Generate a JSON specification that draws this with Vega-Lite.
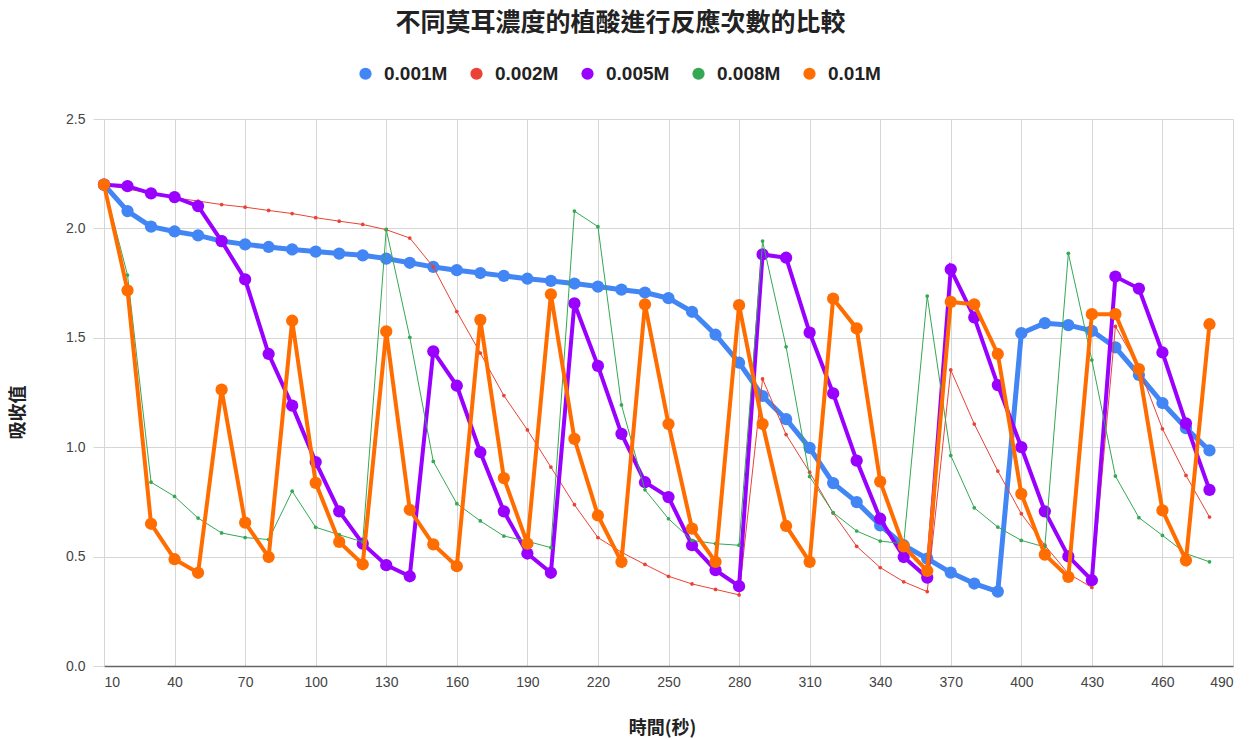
{
  "$schema": "https://vega.github.io/schema/vega-lite/v6.json",
  "autosize": {"type": "none"},
  "padding": {"left": 104, "top": 119, "right": 24, "bottom": 74},
  "width": 1129,
  "height": 547,
  "background": "white",
  "title": {
    "text": "不同莫耳濃度的植酸進行反應次數的比較",
    "font": "Noto Sans CJK TC",
    "fontSize": 25,
    "fontWeight": "bold",
    "color": "#222222",
    "anchor": "middle",
    "dx": -48,
    "offset": 28
  },
  "config": {
    "view": {"stroke": null},
    "axis": {
      "labelFont": "Liberation Sans",
      "labelFontSize": 14,
      "labelColor": "#444444",
      "gridColor": "#d6d6d6",
      "gridWidth": 1,
      "titleFont": "Noto Sans CJK TC",
      "titleFontSize": 18,
      "titleFontWeight": "bold",
      "titleColor": "#222222"
    },
    "legend": {
      "labelFont": "Liberation Sans",
      "labelFontSize": 19,
      "labelFontWeight": "bold",
      "labelColor": "#222222",
      "symbolSize": 150,
      "symbolStrokeWidth": 0,
      "symbolType": "circle",
      "labelOffset": 9,
      "columnPadding": 19,
      "padding": 0
    }
  },
  "data": {
    "values": [
      {"t":10,"s":"0.001M","v":2.2},{"t":20,"s":"0.001M","v":2.079},{"t":30,"s":"0.001M","v":2.008},{"t":40,"s":"0.001M","v":1.986},{"t":50,"s":"0.001M","v":1.968},{"t":60,"s":"0.001M","v":1.942},{"t":70,"s":"0.001M","v":1.927},{"t":80,"s":"0.001M","v":1.915},{"t":90,"s":"0.001M","v":1.904},{"t":100,"s":"0.001M","v":1.894},{"t":110,"s":"0.001M","v":1.885},{"t":120,"s":"0.001M","v":1.877},{"t":130,"s":"0.001M","v":1.862},{"t":140,"s":"0.001M","v":1.843},{"t":150,"s":"0.001M","v":1.824},{"t":160,"s":"0.001M","v":1.809},{"t":170,"s":"0.001M","v":1.796},{"t":180,"s":"0.001M","v":1.783},{"t":190,"s":"0.001M","v":1.770},{"t":200,"s":"0.001M","v":1.760},{"t":210,"s":"0.001M","v":1.748},{"t":220,"s":"0.001M","v":1.734},{"t":230,"s":"0.001M","v":1.720},{"t":240,"s":"0.001M","v":1.707},{"t":250,"s":"0.001M","v":1.681},{"t":260,"s":"0.001M","v":1.619},{"t":270,"s":"0.001M","v":1.514},{"t":280,"s":"0.001M","v":1.386},{"t":290,"s":"0.001M","v":1.234},{"t":300,"s":"0.001M","v":1.128},{"t":310,"s":"0.001M","v":0.997},{"t":320,"s":"0.001M","v":0.836},{"t":330,"s":"0.001M","v":0.749},{"t":340,"s":"0.001M","v":0.643},{"t":350,"s":"0.001M","v":0.552},{"t":360,"s":"0.001M","v":0.491},{"t":370,"s":"0.001M","v":0.427},{"t":380,"s":"0.001M","v":0.377},{"t":390,"s":"0.001M","v":0.340},{"t":400,"s":"0.001M","v":1.521},{"t":410,"s":"0.001M","v":1.567},{"t":420,"s":"0.001M","v":1.558},{"t":430,"s":"0.001M","v":1.532},{"t":440,"s":"0.001M","v":1.456},{"t":450,"s":"0.001M","v":1.330},{"t":460,"s":"0.001M","v":1.202},{"t":470,"s":"0.001M","v":1.087},{"t":480,"s":"0.001M","v":0.985},
      {"t":10,"s":"0.002M","v":2.2},{"t":20,"s":"0.002M","v":2.18},{"t":30,"s":"0.002M","v":2.16},{"t":40,"s":"0.002M","v":2.14},{"t":50,"s":"0.002M","v":2.125},{"t":60,"s":"0.002M","v":2.109},{"t":70,"s":"0.002M","v":2.097},{"t":80,"s":"0.002M","v":2.082},{"t":90,"s":"0.002M","v":2.068},{"t":100,"s":"0.002M","v":2.049},{"t":110,"s":"0.002M","v":2.033},{"t":120,"s":"0.002M","v":2.018},{"t":130,"s":"0.002M","v":1.994},{"t":140,"s":"0.002M","v":1.956},{"t":150,"s":"0.002M","v":1.824},{"t":160,"s":"0.002M","v":1.620},{"t":170,"s":"0.002M","v":1.430},{"t":180,"s":"0.002M","v":1.236},{"t":190,"s":"0.002M","v":1.079},{"t":200,"s":"0.002M","v":0.909},{"t":210,"s":"0.002M","v":0.737},{"t":220,"s":"0.002M","v":0.587},{"t":230,"s":"0.002M","v":0.520},{"t":240,"s":"0.002M","v":0.464},{"t":250,"s":"0.002M","v":0.410},{"t":260,"s":"0.002M","v":0.375},{"t":270,"s":"0.002M","v":0.350},{"t":280,"s":"0.002M","v":0.325},{"t":290,"s":"0.002M","v":1.312},{"t":300,"s":"0.002M","v":1.058},{"t":310,"s":"0.002M","v":0.886},{"t":320,"s":"0.002M","v":0.699},{"t":330,"s":"0.002M","v":0.547},{"t":340,"s":"0.002M","v":0.450},{"t":350,"s":"0.002M","v":0.385},{"t":360,"s":"0.002M","v":0.340},{"t":370,"s":"0.002M","v":1.353},{"t":380,"s":"0.002M","v":1.106},{"t":390,"s":"0.002M","v":0.891},{"t":400,"s":"0.002M","v":0.696},{"t":410,"s":"0.002M","v":0.552},{"t":420,"s":"0.002M","v":0.422},{"t":430,"s":"0.002M","v":0.359},{"t":440,"s":"0.002M","v":1.552},{"t":450,"s":"0.002M","v":1.365},{"t":460,"s":"0.002M","v":1.084},{"t":470,"s":"0.002M","v":0.871},{"t":480,"s":"0.002M","v":0.681},
      {"t":10,"s":"0.005M","v":2.2},{"t":20,"s":"0.005M","v":2.193},{"t":30,"s":"0.005M","v":2.160},{"t":40,"s":"0.005M","v":2.143},{"t":50,"s":"0.005M","v":2.102},{"t":60,"s":"0.005M","v":1.942},{"t":70,"s":"0.005M","v":1.767},{"t":80,"s":"0.005M","v":1.426},{"t":90,"s":"0.005M","v":1.190},{"t":100,"s":"0.005M","v":0.932},{"t":110,"s":"0.005M","v":0.707},{"t":120,"s":"0.005M","v":0.559},{"t":130,"s":"0.005M","v":0.461},{"t":140,"s":"0.005M","v":0.410},{"t":150,"s":"0.005M","v":1.438},{"t":160,"s":"0.005M","v":1.281},{"t":170,"s":"0.005M","v":0.977},{"t":180,"s":"0.005M","v":0.707},{"t":190,"s":"0.005M","v":0.514},{"t":200,"s":"0.005M","v":0.426},{"t":210,"s":"0.005M","v":1.657},{"t":220,"s":"0.005M","v":1.372},{"t":230,"s":"0.005M","v":1.061},{"t":240,"s":"0.005M","v":0.840},{"t":250,"s":"0.005M","v":0.772},{"t":260,"s":"0.005M","v":0.552},{"t":270,"s":"0.005M","v":0.438},{"t":280,"s":"0.005M","v":0.365},{"t":290,"s":"0.005M","v":1.881},{"t":300,"s":"0.005M","v":1.866},{"t":310,"s":"0.005M","v":1.524},{"t":320,"s":"0.005M","v":1.246},{"t":330,"s":"0.005M","v":0.939},{"t":340,"s":"0.005M","v":0.673},{"t":350,"s":"0.005M","v":0.498},{"t":360,"s":"0.005M","v":0.404},{"t":370,"s":"0.005M","v":1.813},{"t":380,"s":"0.005M","v":1.593},{"t":390,"s":"0.005M","v":1.284},{"t":400,"s":"0.005M","v":1.000},{"t":410,"s":"0.005M","v":0.707},{"t":420,"s":"0.005M","v":0.501},{"t":430,"s":"0.005M","v":0.392},{"t":440,"s":"0.005M","v":1.780},{"t":450,"s":"0.005M","v":1.725},{"t":460,"s":"0.005M","v":1.433},{"t":470,"s":"0.005M","v":1.109},{"t":480,"s":"0.005M","v":0.805},
      {"t":10,"s":"0.008M","v":2.2},{"t":20,"s":"0.008M","v":1.787},{"t":30,"s":"0.008M","v":0.840},{"t":40,"s":"0.008M","v":0.775},{"t":50,"s":"0.008M","v":0.676},{"t":60,"s":"0.008M","v":0.608},{"t":70,"s":"0.008M","v":0.587},{"t":80,"s":"0.008M","v":0.578},{"t":90,"s":"0.008M","v":0.799},{"t":100,"s":"0.008M","v":0.634},{"t":110,"s":"0.008M","v":0.600},{"t":120,"s":"0.008M","v":0.567},{"t":130,"s":"0.008M","v":1.995},{"t":140,"s":"0.008M","v":1.502},{"t":150,"s":"0.008M","v":0.935},{"t":160,"s":"0.008M","v":0.742},{"t":170,"s":"0.008M","v":0.663},{"t":180,"s":"0.008M","v":0.594},{"t":190,"s":"0.008M","v":0.570},{"t":200,"s":"0.008M","v":0.541},{"t":210,"s":"0.008M","v":2.079},{"t":220,"s":"0.008M","v":2.008},{"t":230,"s":"0.008M","v":1.193},{"t":240,"s":"0.008M","v":0.805},{"t":250,"s":"0.008M","v":0.673},{"t":260,"s":"0.008M","v":0.574},{"t":270,"s":"0.008M","v":0.559},{"t":280,"s":"0.008M","v":0.552},{"t":290,"s":"0.008M","v":1.942},{"t":300,"s":"0.008M","v":1.459},{"t":310,"s":"0.008M","v":0.866},{"t":320,"s":"0.008M","v":0.701},{"t":330,"s":"0.008M","v":0.617},{"t":340,"s":"0.008M","v":0.571},{"t":350,"s":"0.008M","v":0.559},{"t":360,"s":"0.008M","v":1.691},{"t":370,"s":"0.008M","v":0.962},{"t":380,"s":"0.008M","v":0.723},{"t":390,"s":"0.008M","v":0.635},{"t":400,"s":"0.008M","v":0.574},{"t":410,"s":"0.008M","v":0.544},{"t":420,"s":"0.008M","v":1.886},{"t":430,"s":"0.008M","v":1.398},{"t":440,"s":"0.008M","v":0.868},{"t":450,"s":"0.008M","v":0.678},{"t":460,"s":"0.008M","v":0.597},{"t":470,"s":"0.008M","v":0.514},{"t":480,"s":"0.008M","v":0.476},
      {"t":10,"s":"0.01M","v":2.2},{"t":20,"s":"0.01M","v":1.717},{"t":30,"s":"0.01M","v":0.650},{"t":40,"s":"0.01M","v":0.488},{"t":50,"s":"0.01M","v":0.426},{"t":60,"s":"0.01M","v":1.263},{"t":70,"s":"0.01M","v":0.655},{"t":80,"s":"0.01M","v":0.498},{"t":90,"s":"0.01M","v":1.578},{"t":100,"s":"0.01M","v":0.837},{"t":110,"s":"0.01M","v":0.567},{"t":120,"s":"0.01M","v":0.465},{"t":130,"s":"0.01M","v":1.529},{"t":140,"s":"0.01M","v":0.714},{"t":150,"s":"0.01M","v":0.556},{"t":160,"s":"0.01M","v":0.456},{"t":170,"s":"0.01M","v":1.582},{"t":180,"s":"0.01M","v":0.859},{"t":190,"s":"0.01M","v":0.559},{"t":200,"s":"0.01M","v":1.699},{"t":210,"s":"0.01M","v":1.038},{"t":220,"s":"0.01M","v":0.688},{"t":230,"s":"0.01M","v":0.476},{"t":240,"s":"0.01M","v":1.653},{"t":250,"s":"0.01M","v":1.106},{"t":260,"s":"0.01M","v":0.628},{"t":270,"s":"0.01M","v":0.476},{"t":280,"s":"0.01M","v":1.649},{"t":290,"s":"0.01M","v":1.106},{"t":300,"s":"0.01M","v":0.640},{"t":310,"s":"0.01M","v":0.476},{"t":320,"s":"0.01M","v":1.679},{"t":330,"s":"0.01M","v":1.543},{"t":340,"s":"0.01M","v":0.843},{"t":350,"s":"0.01M","v":0.547},{"t":360,"s":"0.01M","v":0.435},{"t":370,"s":"0.01M","v":1.664},{"t":380,"s":"0.01M","v":1.653},{"t":390,"s":"0.01M","v":1.426},{"t":400,"s":"0.01M","v":0.787},{"t":410,"s":"0.01M","v":0.509},{"t":420,"s":"0.01M","v":0.407},{"t":430,"s":"0.01M","v":1.608},{"t":440,"s":"0.01M","v":1.608},{"t":450,"s":"0.01M","v":1.357},{"t":460,"s":"0.01M","v":0.711},{"t":470,"s":"0.01M","v":0.483},{"t":480,"s":"0.01M","v":1.562}
    ]
  },
  "encoding": {
    "x": {
      "field": "t", "type": "quantitative",
      "scale": {"domain": [10, 490], "nice": false, "zero": false},
      "axis": {
        "title": "時間(秒)",
        "values": [10, 40, 70, 100, 130, 160, 190, 220, 250, 280, 310, 340, 370, 400, 430, 460, 490],
        "ticks": false,
        "labelPadding": 9,
        "domainColor": "#666666",
        "domainWidth": 1.5,
        "titleX": 558,
        "titleY": 62,
        "titleBaseline": "middle",
        "titleAlign": "center"
      }
    },
    "y": {
      "field": "v", "type": "quantitative",
      "scale": {"domain": [0, 2.5], "nice": false},
      "axis": {
        "title": "吸收值",
        "values": [0, 0.5, 1, 1.5, 2, 2.5],
        "format": ".1f",
        "domain": false,
        "tickSize": 11,
        "tickColor": "#d6d6d6",
        "labelPadding": 8,
        "titleX": -86,
        "titleY": 293,
        "titleBaseline": "middle",
        "titleAlign": "center",
        "titleAngle": -90
      }
    },
    "color": {
      "field": "s", "type": "nominal",
      "scale": {"domain": ["0.001M","0.002M","0.005M","0.008M","0.01M"], "range": ["#4285f4","#ea4335","#9900ff","#34a853","#ff6d01"]},
      "legend": {"title": null, "orient": "none", "direction": "horizontal", "columns": 5, "legendX": 252, "legendY": -55, "symbolType": "circle"}
    }
  },
  "layer": [
    {"transform": [{"filter": "datum.s === '0.001M'"}], "mark": {"type": "line", "strokeWidth": 5, "strokeJoin": "round"}},
    {"transform": [{"filter": "datum.s === '0.001M'"}], "mark": {"type": "point", "filled": true, "size": 150, "opacity": 1}},
    {"transform": [{"filter": "datum.s === '0.002M'"}], "mark": {"type": "line", "strokeWidth": 1}},
    {"transform": [{"filter": "datum.s === '0.002M'"}], "mark": {"type": "point", "filled": true, "size": 14, "opacity": 1}},
    {"transform": [{"filter": "datum.s === '0.005M'"}], "mark": {"type": "line", "strokeWidth": 4}},
    {"transform": [{"filter": "datum.s === '0.005M'"}], "mark": {"type": "point", "filled": true, "size": 150, "opacity": 1}},
    {"transform": [{"filter": "datum.s === '0.008M'"}], "mark": {"type": "line", "strokeWidth": 1}},
    {"transform": [{"filter": "datum.s === '0.008M'"}], "mark": {"type": "point", "filled": true, "size": 14, "opacity": 1}},
    {"transform": [{"filter": "datum.s === '0.01M'"}], "mark": {"type": "line", "strokeWidth": 4}},
    {"transform": [{"filter": "datum.s === '0.01M'"}], "mark": {"type": "point", "filled": true, "size": 150, "opacity": 1}}
  ]
}
